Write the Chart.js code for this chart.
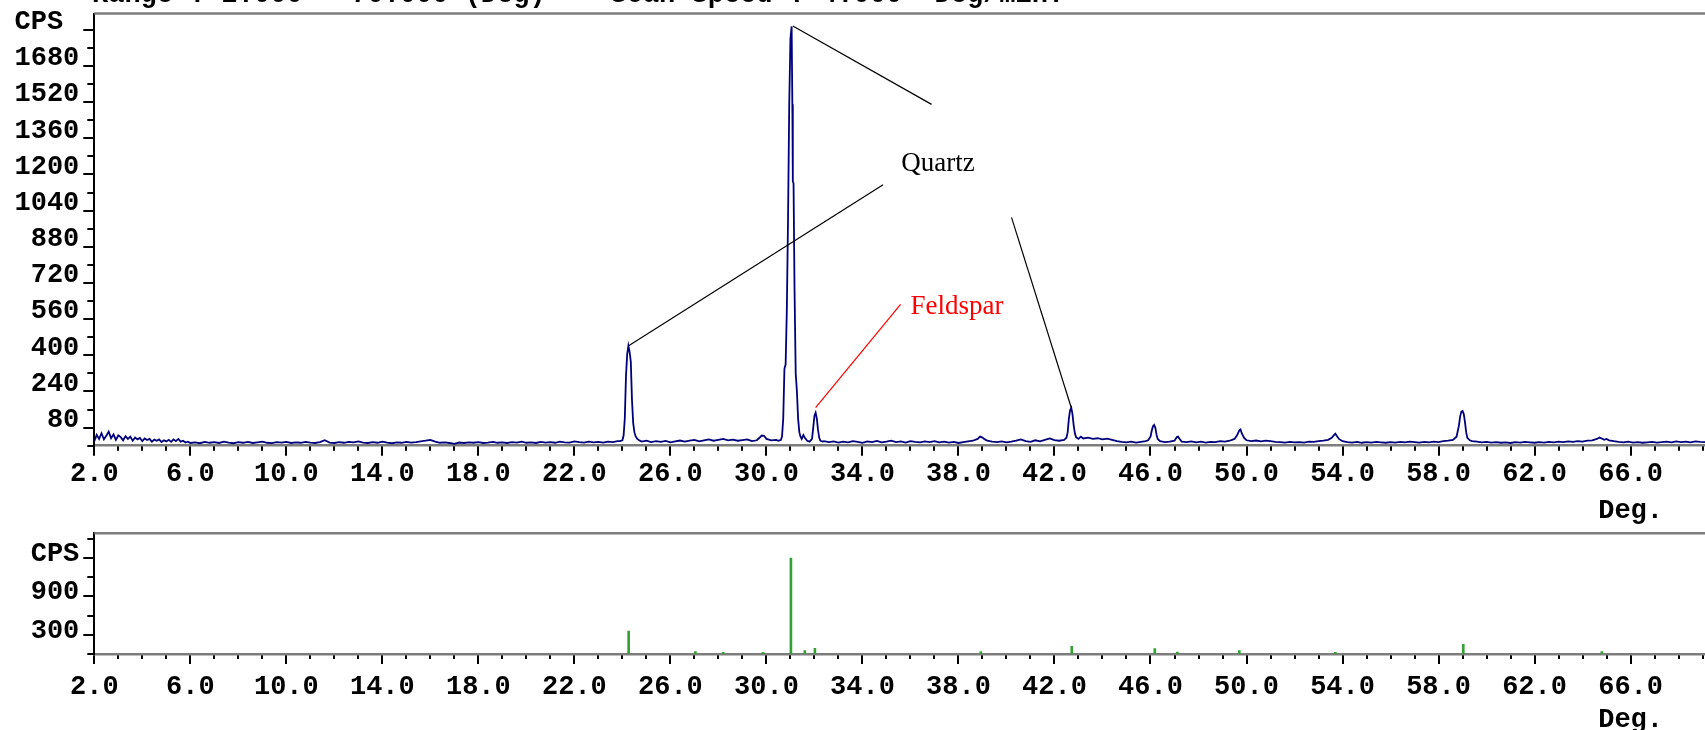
<!DOCTYPE html>
<html>
<head>
<meta charset="utf-8">
<title>XRD pattern</title>
<script src="https://cdn.jsdelivr.net/npm/chart.js@4.4.0/dist/chart.umd.min.js"></script>
<style>
  html, body { margin: 0; padding: 0; background: #fff; overflow: hidden; }
  #wrap { position: relative; width: 1705px; height: 730px; }
  canvas { position: absolute; left: 0; }
  #chart-pattern { top: 0; }
  #chart-sticks { top: 525px; }
</style>
</head>
<body>
<div id="wrap">
  <canvas id="chart-pattern" width="1705" height="530"></canvas>
  <canvas id="chart-sticks" width="1705" height="205"></canvas>
</div>
<script>
const twoTheta = [
  2.0, 2.1, 2.2, 2.3, 2.4, 2.5, 2.6, 2.7, 2.8, 2.9, 3.0, 3.1, 3.2, 3.3, 3.4, 3.5, 3.6, 3.7, 3.8, 3.9,
  4.0, 4.1, 4.2, 4.3, 4.4, 4.5, 4.6, 4.7, 4.8, 4.9, 5.0, 5.1, 5.2, 5.3, 5.4, 5.5, 5.6, 5.7, 5.8, 5.9, 6.0,
  6.2, 6.4, 6.6, 6.8, 7.0, 7.2, 7.4, 7.6, 7.8, 8.0, 8.2, 8.4, 8.6, 8.8, 9.0, 9.2, 9.4, 9.6, 9.8, 10.0,
  10.2, 10.4, 10.6, 10.8, 11.0, 11.2, 11.4, 11.6, 11.8, 12.0, 12.2, 12.4, 12.6, 12.8, 13.0, 13.2, 13.4, 13.6, 13.8, 14.0,
  14.2, 14.4, 14.6, 14.8, 15.0, 15.2, 15.4, 15.6, 15.8, 16.0, 16.2, 16.4, 16.6, 16.8, 17.0, 17.2, 17.4, 17.6, 17.8, 18.0,
  18.2, 18.4, 18.6, 18.8, 19.0, 19.2, 19.4, 19.6, 19.8, 20.0, 20.2, 20.4, 20.6, 20.8, 21.0, 21.2, 21.4, 21.6, 21.8, 22.0,
  22.2, 22.4, 22.6, 22.8, 23.0, 23.2, 23.4, 23.6, 23.8,
  23.9, 24.0, 24.05, 24.1, 24.15, 24.2, 24.25, 24.3, 24.35, 24.4, 24.45, 24.5, 24.55, 24.62, 24.7,
  24.8, 25.0, 25.2, 25.4, 25.6, 25.8, 26.0, 26.2, 26.4, 26.6, 26.8, 27.0, 27.2, 27.4, 27.6, 27.8, 28.0, 28.2, 28.4, 28.6,
  28.8, 29.0, 29.2, 29.4, 29.6, 29.7, 29.8, 29.9, 30.0, 30.2, 30.4, 30.5,
  30.6, 30.65, 30.7, 30.75, 30.8, 30.85, 30.9, 30.95, 31.0, 31.05, 31.08, 31.1, 31.13, 31.17, 31.22, 31.27, 31.32, 31.37, 31.42, 31.47,
  31.54, 31.6, 31.7, 31.8, 31.9, 31.95, 32.0, 32.05, 32.1, 32.15, 32.2, 32.25, 32.35,
  32.4, 32.6, 32.8, 33.0, 33.2, 33.4, 33.6, 33.8, 34.0, 34.2, 34.4, 34.6, 34.8, 35.0, 35.2, 35.4, 35.6, 35.8, 36.0, 36.2,
  36.4, 36.6, 36.8, 37.0, 37.2, 37.4, 37.6, 37.8, 38.0, 38.2, 38.4, 38.6, 38.8, 38.9, 39.0, 39.1, 39.2, 39.4, 39.6, 39.8,
  40.0, 40.2, 40.4, 40.6, 40.8, 41.0, 41.2, 41.4, 41.6, 41.8, 42.0, 42.2, 42.4,
  42.5, 42.55, 42.6, 42.65, 42.7, 42.75, 42.8, 42.85, 42.9, 43.0, 43.1, 43.2, 43.4, 43.6, 43.8, 44.0, 44.2, 44.4, 44.6, 44.8,
  45.0, 45.2, 45.4, 45.6, 45.8,
  45.9, 46.0, 46.05, 46.1, 46.15, 46.2, 46.25, 46.3, 46.4, 46.6, 46.8, 47.0, 47.1, 47.15, 47.2, 47.3, 47.5, 47.7, 47.9, 48.1,
  48.3, 48.5, 48.7, 48.9, 49.1, 49.3, 49.5, 49.6, 49.7, 49.75, 49.8, 49.9, 50.0, 50.2, 50.4, 50.6, 50.8, 51.0, 51.2, 51.4,
  51.6, 51.8, 52.0, 52.2, 52.4, 52.6, 52.8, 53.0, 53.2, 53.4, 53.55, 53.65, 53.7, 53.75, 53.85, 54.0, 54.2,
  54.4, 54.6, 54.8, 55.0, 55.2, 55.4, 55.6, 55.8, 56.0, 56.2, 56.4, 56.6, 56.8, 57.0, 57.2, 57.4, 57.6, 57.8, 58.0, 58.2,
  58.4, 58.6, 58.75, 58.85, 58.9, 58.95, 59.0, 59.05, 59.1, 59.15, 59.2, 59.3, 59.4, 59.6, 59.8, 60.0,
  60.2, 60.4, 60.6, 60.8, 61.0, 61.2, 61.4, 61.6, 61.8, 62.0, 62.2, 62.4, 62.6, 62.8, 63.0, 63.2, 63.4, 63.6, 63.8, 64.0,
  64.2, 64.4, 64.6, 64.7, 64.8, 64.9, 65.0, 65.1, 65.3, 65.5, 65.7, 65.9, 66.1, 66.3, 66.5, 66.7, 66.9, 67.1, 67.3, 67.5,
  67.7, 67.9, 68.1, 68.3, 68.5, 68.7, 68.9, 69.1
];
const cps = [
  20, 48, 30, 55, 28, 44, 62, 33, 50, 26, 46, 38, 24, 42, 30, 40, 22, 36, 28, 34,
  20, 32, 25, 30, 18, 27, 22, 28, 16, 24, 19, 26, 17, 28, 20, 30, 18, 22, 14, 18, 12,
  15, 11, 17, 13, 16, 12, 18, 14, 11, 16, 13, 17, 12, 15, 18, 13, 11, 16, 14, 17,
  12, 15, 13, 17, 14, 12, 16, 24, 14, 12, 16, 13, 17, 15, 19, 14, 12, 16, 13, 18,
  14, 11, 15, 13, 17, 14, 16, 19, 22, 26, 18, 13, 15, 12, 8, 14, 12, 15, 13, 16,
  12, 14, 17, 13, 15, 12, 16, 14, 18, 13, 15, 12, 17, 14, 16, 13, 18, 15, 14, 19,
  16, 14, 18, 15, 17, 14, 18, 16, 20,
  20, 24, 45, 120, 310, 405, 442, 415, 372, 200, 100, 60, 42, 30, 24,
  18, 22, 16, 20, 17, 21, 15, 19, 23, 18, 22, 26, 19, 24, 28, 22, 26, 30, 24, 27,
  22, 25, 28, 20, 24, 34, 45, 44, 30, 24, 26, 22,
  25, 40, 120, 340, 360, 600, 1000, 1510, 1800, 1855, 1510, 1170, 1160, 700, 320, 240, 120, 60, 40, 30,
  47, 35, 22, 18, 30, 80, 132, 146, 120, 70, 35, 22, 18,
  20, 16, 19, 14, 18, 15, 20, 17, 13, 19, 16, 21, 15, 18, 22, 16, 19, 14, 20, 17,
  15, 19, 16, 20, 15, 18, 14, 17, 12, 16, 19, 22, 30, 40, 36, 28, 22, 18, 16, 19,
  15, 18, 22, 28, 20, 17, 24, 19, 26, 32, 25, 22, 26,
  35, 60, 120, 157, 168, 140, 90, 55, 38, 30, 40, 32, 36, 30, 33, 28, 31, 26, 20, 17,
  15, 18, 14, 17, 20,
  24, 40, 65, 85, 92, 80, 50, 30, 20, 16, 18, 22, 38, 40, 32, 18, 16, 19, 15, 18,
  14, 17, 16, 20, 18, 22, 30, 45, 68, 72, 55, 34, 24, 20, 23, 19, 22, 20, 17, 16,
  14, 17, 15, 16, 14, 18, 17, 20, 22, 26, 35, 48, 53, 45, 30, 20, 16,
  14, 17, 13, 16, 14, 17, 15, 13, 16, 14, 17, 15, 18, 16, 14, 17, 15, 18, 16, 20,
  22, 26, 40, 90, 130, 150, 154, 140, 105, 60, 35, 24, 20, 18, 15, 17,
  14, 16, 13, 15, 12, 16, 14, 17, 15, 13, 16, 14, 17, 15, 18, 16, 19, 17, 20, 18,
  22, 24, 30, 36, 32, 26, 30, 24, 20, 17, 15, 18, 14, 16, 13, 15, 17, 14, 16, 18,
  15, 19, 16, 18, 15, 19, 17, 16
];

// reference (stick) pattern in the lower panel
const stickTheta = [24.26, 27.04, 28.2, 29.86, 31.02, 31.6, 32.02, 38.93, 42.72, 46.18, 47.12, 49.7, 53.7, 59.03, 64.8];
const stickCps   = [360,   36,    26,   26,    1500,  52,   89,    36,    120,   85,    30,    52,   26,   150,   36];

// axis ticks and labels
const degTicks = [2, 6, 10, 14, 18, 22, 26, 30, 34, 38, 42, 46, 50, 54, 58, 62, 66];
const patternCpsTicks  = [80, 240, 400, 560, 720, 880, 1040, 1200, 1360, 1520, 1680, 1840];
const patternCpsLabels = ['80', '240', '400', '560', '720', '880', '1040', '1200', '1360', '1520', '1680', 'CPS '];
const stickCpsTicks  = [300, 900, 1500];
const stickCpsLabels = ['300', '900', 'CPS'];

// callouts, in data coordinates [deg, cps]
const quartzLines = [
  [[31.1, 1857], [36.88, 1510]],
  [[24.26, 442], [34.86, 1154]],
  [[40.21, 1010], [42.7, 168]]
];
const feldsparLine = [[32.05, 168], [35.59, 625]];
const quartzLabelAt = [37.15, 1247];
const feldsparLabelAt = [37.94, 616];

const TITLE_TEXT = 'Range : 2.000 - 70.000 (Deg)    Scan Speed : 4.000  Deg/min.';
const MONO = '"Liberation Mono", "Courier New", monospace';
const AXIS_FONT = { family: MONO, size: 27, weight: 'bold', lineHeight: 1.2 };
const X_MIN = 2;
const X_MAX = 69.1;

function noPadding(scale) {
  scale.paddingLeft = 0;
  scale.paddingRight = 0;
  scale.paddingTop = 0;
  scale.paddingBottom = 0;
}

function makeScales(cfg) {
  const minorY = [];
  for (let v = 0; v < cfg.yMax; v += cfg.yStep) minorY.push(v);
  const minorX = [];
  for (let v = X_MIN; v <= X_MAX; v += 1) minorX.push(v);

  return {
    x: {
      type: 'linear', position: 'bottom', min: X_MIN, max: X_MAX, offset: false, weight: 1,
      afterBuildTicks: s => { s.ticks = degTicks.map(v => ({ value: v })); },
      afterFit: s => { s.height = cfg.xHeight; noPadding(s); },
      grid: { drawOnChartArea: false, drawTicks: true, tickLength: 10, color: '#000', lineWidth: 2, offset: false },
      border: { display: true, color: '#7d7d7d', width: 2.5 },
      ticks: { autoSkip: false, maxRotation: 0, padding: cfg.xPad, color: '#000', font: AXIS_FONT,
               callback: v => Number(v).toFixed(1) }
    },
    xMinor: {
      type: 'linear', position: 'bottom', min: X_MIN, max: X_MAX, offset: false, weight: 0,
      afterBuildTicks: s => { s.ticks = minorX.map(v => ({ value: v })); },
      afterFit: s => { s.height = 0; noPadding(s); },
      grid: { drawOnChartArea: false, drawTicks: true, tickLength: 5, color: '#000', lineWidth: 2, offset: false },
      border: { display: false },
      ticks: { autoSkip: false, maxRotation: 0, callback: () => '' }
    },
    y: {
      type: 'linear', position: 'left', min: 0, max: cfg.yMax, weight: 1,
      afterBuildTicks: s => { s.ticks = cfg.ticks.map(v => ({ value: v })); },
      afterFit: s => { s.width = 94.3; noPadding(s); },
      grid: { drawOnChartArea: false, drawTicks: true, tickLength: 11, color: '#000', lineWidth: 2 },
      border: { display: true, color: '#000', width: 2 },
      ticks: { autoSkip: false, padding: 4, labelOffset: cfg.yLabelOffset, color: '#000', font: AXIS_FONT,
               callback: v => {
                 const i = cfg.ticks.indexOf(v);
                 return i >= 0 ? cfg.labels[i] : '';
               } }
    },
    yMinor: {
      type: 'linear', position: 'left', min: 0, max: cfg.yMax, weight: 0,
      afterBuildTicks: s => { s.ticks = minorY.map(v => ({ value: v })); },
      afterFit: s => { s.width = 0; noPadding(s); },
      grid: { drawOnChartArea: false, drawTicks: true, tickLength: 7, color: '#000', lineWidth: 2 },
      border: { display: false },
      ticks: { autoSkip: false, callback: () => '' }
    }
  };
}

// frame line on top of the plot area + "Deg." under the last label
function frameAndUnit(degY) {
  return {
    id: 'frameAndUnit',
    afterDraw(chart) {
      const { ctx, chartArea, scales } = chart;
      ctx.save();
      ctx.strokeStyle = '#7d7d7d';
      ctx.lineWidth = 2.5;
      ctx.beginPath();
      ctx.moveTo(chartArea.left, chartArea.top);
      ctx.lineTo(chartArea.right, chartArea.top);
      ctx.stroke();

      ctx.fillStyle = '#000';
      ctx.font = 'bold 27px ' + MONO;
      ctx.textAlign = 'center';
      ctx.textBaseline = 'middle';
      ctx.fillText('Deg.', scales.x.getPixelForValue(66), degY);
      ctx.restore();
    }
  };
}

const calloutPlugin = {
  id: 'callouts',
  afterDatasetsDraw(chart) {
    const { ctx, scales: { x, y } } = chart;
    const px = p => [x.getPixelForValue(p[0]), y.getPixelForValue(p[1])];
    ctx.save();
    ctx.lineWidth = 1.2;

    ctx.strokeStyle = '#000';
    quartzLines.forEach(seg => {
      const a = px(seg[0]), b = px(seg[1]);
      ctx.beginPath();
      ctx.moveTo(a[0], a[1]);
      ctx.lineTo(b[0], b[1]);
      ctx.stroke();
    });
    ctx.strokeStyle = '#ff0000';
    const fa = px(feldsparLine[0]), fb = px(feldsparLine[1]);
    ctx.beginPath();
    ctx.moveTo(fa[0], fa[1]);
    ctx.lineTo(fb[0], fb[1]);
    ctx.stroke();

    ctx.font = '27px "Liberation Serif", "Times New Roman", serif';
    ctx.textAlign = 'center';
    ctx.textBaseline = 'middle';
    const q = px(quartzLabelAt);
    ctx.fillStyle = '#000';
    ctx.fillText('Quartz', q[0], q[1]);
    const f = px(feldsparLabelAt);
    ctx.fillStyle = '#ff0000';
    ctx.fillText('Feldspar', f[0], f[1]);

    // scan header, cut off by the top edge of the picture
    ctx.fillStyle = '#000';
    ctx.font = 'bold 27px ' + MONO;
    ctx.textAlign = 'left';
    ctx.textBaseline = 'alphabetic';
    ctx.fillText(TITLE_TEXT, 92, 2);
    ctx.restore();
  }
};

const patternChart = new Chart(document.getElementById('chart-pattern'), {
  type: 'line',
  data: {
    datasets: [{
      label: 'CPS',
      data: twoTheta.map((t, i) => ({ x: t, y: cps[i] })),
      borderColor: '#00007c',
      borderWidth: 1.8,
      pointRadius: 0,
      tension: 0,
      fill: false,
      xAxisID: 'x',
      yAxisID: 'y'
    }]
  },
  options: {
    responsive: false,
    animation: false,
    layout: { padding: { top: 13.5, left: 0, right: 0, bottom: 0 } },
    plugins: { legend: { display: false }, tooltip: { enabled: false } },
    scales: makeScales({ yMax: 1912, yStep: 80, ticks: patternCpsTicks, labels: patternCpsLabels,
                         xHeight: 84.3, xPad: 2, yLabelOffset: -7.5 })
  },
  plugins: [frameAndUnit(511), calloutPlugin]
});

const stickChart = new Chart(document.getElementById('chart-sticks'), {
  type: 'bar',
  data: {
    datasets: [{
      label: 'Reference',
      data: stickTheta.map((t, i) => ({ x: t, y: stickCps[i] })),
      backgroundColor: '#35a035',
      borderWidth: 0,
      barThickness: 2,
      xAxisID: 'x',
      yAxisID: 'y'
    }]
  },
  options: {
    responsive: false,
    animation: false,
    layout: { padding: { top: 8.3, left: 0, right: 0, bottom: 0 } },
    plugins: { legend: { display: false }, tooltip: { enabled: false } },
    scales: makeScales({ yMax: 1886, yStep: 300, ticks: stickCpsTicks, labels: stickCpsLabels,
                         xHeight: 76, xPad: 7, yLabelOffset: -4 })
  },
  plugins: [frameAndUnit(195)]
});
</script>
</body>
</html>
